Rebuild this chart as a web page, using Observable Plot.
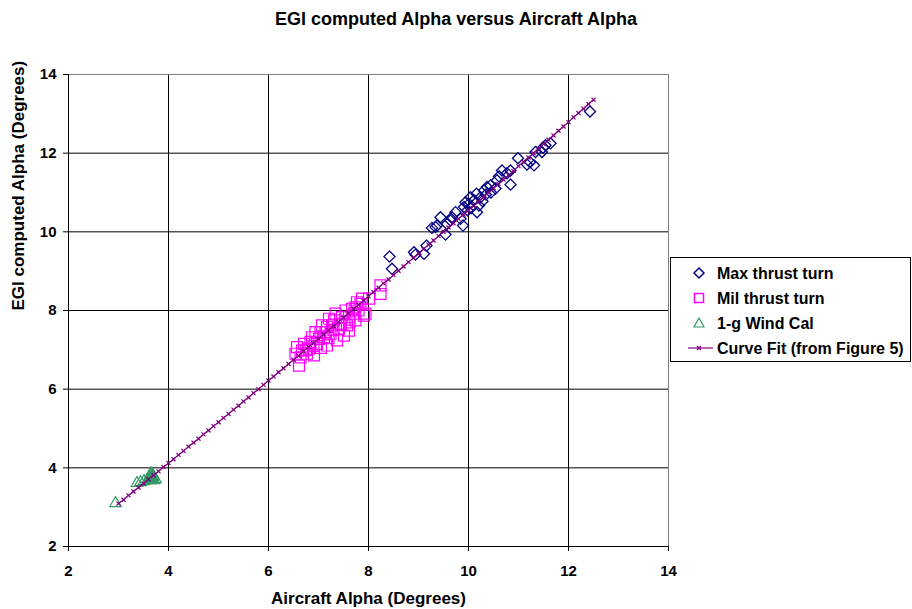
<!DOCTYPE html>
<html>
<head>
<meta charset="utf-8">
<script src="https://cdn.jsdelivr.net/npm/d3@7"></script>
<script src="https://cdn.jsdelivr.net/npm/@observablehq/plot@0.6"></script>
<style>
  html, body { margin: 0; padding: 0; background: #fff; }
  #wrap { position: relative; width: 912px; height: 609px; font-family: "Liberation Sans", Arial, sans-serif; }
  #title { position: absolute; left: 0; top: 8px; width: 912px; text-align: center; font-weight: bold; font-size: 18px; line-height: 22px; color: #000; }
  #chart { position: absolute; left: 0; top: 0; }
  #legend { position: absolute; left: 670px; top: 257px; }
</style>
</head>
<body>
<div id="wrap">
  <div id="chart"></div>
  <div id="title">EGI computed Alpha versus Aircraft Alpha</div>
  <div id="legend"></div>
</div>
<script>
// ---- data ----
const seriesNames = ["Max thrust turn", "Mil thrust turn", "1-g Wind Cal", "Curve Fit (from Figure 5)"];
const xLabel = "Aircraft Alpha (Degrees)";
const yLabel = "EGI computed Alpha (Degrees)";

const maxX = [12.43, 11.64, 11.54, 11.49, 11.47, 11.34, 11.31, 11.23, 11.17, 10.99,
              10.84, 10.77, 10.84, 10.67, 10.61, 10.57, 10.54, 10.44, 10.37, 10.31,
              10.24, 10.21, 10.17, 10.16, 10.11, 10.04, 10.01, 9.94, 9.91, 9.84,
              9.74, 9.67, 9.64, 9.57, 9.54, 9.44, 9.37, 9.34, 9.27, 9.89,
              9.16, 9.11, 8.91, 8.94, 8.42, 8.47, 10.05, 10.28, 10.45, 9.98, 10.35];
const maxY = [13.06, 12.25, 12.20, 12.14, 12.03, 12.03, 11.69, 11.77, 11.71, 11.87,
              11.56, 11.49, 11.20, 11.56, 11.41, 11.31, 11.10, 11.18, 11.14, 11.05,
              10.88, 10.67, 10.50, 10.97, 10.80, 10.88, 10.71, 10.75, 10.63, 10.33,
              10.50, 10.37, 10.29, 10.20, 9.93, 10.37, 10.16, 10.12, 10.10, 10.16,
              9.65, 9.44, 9.48, 9.42, 9.37, 9.06, 10.60, 10.78, 11.00, 10.55, 10.95];

const milX = [8.24, 8.24, 8.01, 7.87, 7.84, 7.94, 7.91, 7.77, 7.74, 7.71,
              7.74, 7.67, 7.61, 7.57, 7.54, 7.47, 7.44, 7.41, 7.34, 7.31,
              7.27, 7.24, 7.21, 7.17, 7.14, 7.11, 7.07, 7.04, 7.01, 6.97,
              6.94, 6.87, 6.84, 6.81, 6.77, 6.71, 6.67, 6.64, 6.61, 6.57,
              6.54, 7.61, 7.51, 7.37, 7.17, 6.91, 7.05, 7.20, 7.30, 7.45,
              6.75, 6.90, 7.62, 7.80];
const milY = [8.64, 8.42, 8.30, 8.30, 8.17, 7.92, 7.87, 8.21, 8.08, 7.92,
              7.75, 8.04, 7.83, 7.62, 8.00, 7.83, 7.66, 7.54, 7.92, 7.75,
              7.62, 7.41, 7.79, 7.58, 7.45, 7.32, 7.62, 7.45, 7.28, 7.15,
              7.45, 7.32, 7.20, 7.03, 6.90, 7.15, 6.98, 6.81, 6.60, 7.07,
              6.90, 7.49, 7.36, 7.24, 7.11, 6.86, 7.05, 7.30, 7.50, 7.65,
              7.00, 7.10, 7.70, 8.00];

const windX = [2.94, 3.37, 3.44, 3.51, 3.61, 3.64, 3.67, 3.71, 3.63, 3.65, 3.60, 3.70, 3.62, 3.74, 3.66, 3.68, 3.65, 3.69];
const windY = [3.10, 3.61, 3.63, 3.66, 3.72, 3.81, 3.76, 3.68, 3.68, 3.86, 3.70, 3.78, 3.78, 3.71, 3.72, 3.70, 3.74, 3.80];

const curveX = [3.0,3.1,3.2,3.3,3.4,3.5,3.6,3.7,3.8,3.9,
                4.0,4.1,4.2,4.3,4.4,4.5,4.6,4.7,4.8,4.9,
                5.0,5.1,5.2,5.3,5.4,5.5,5.6,5.7,5.8,5.9,
                6.0,6.1,6.2,6.3,6.4,6.5,6.6,6.7,6.8,6.9,
                7.0,7.1,7.2,7.3,7.4,7.5,7.6,7.7,7.8,7.9,
                8.0,8.1,8.2,8.3,8.4,8.5,8.6,8.7,8.8,8.9,
                9.0,9.1,9.2,9.3,9.4,9.5,9.6,9.7,9.8,9.9,
                10.0,10.1,10.2,10.3,10.4,10.5,10.6,10.7,10.8,10.9,
                11.0,11.1,11.2,11.3,11.4,11.5,11.6,11.7,11.8,11.9,
                12.0,12.1,12.2,12.3,12.4,12.5];
const curveY = [3.09,3.19,3.30,3.40,3.50,3.60,3.71,3.81,3.91,4.02,
                4.12,4.22,4.33,4.43,4.54,4.64,4.74,4.85,4.95,5.06,
                5.16,5.27,5.37,5.48,5.58,5.69,5.79,5.90,6.00,6.11,
                6.22,6.32,6.43,6.53,6.64,6.75,6.85,6.96,7.07,7.17,
                7.28,7.39,7.50,7.60,7.71,7.82,7.93,8.04,8.14,8.25,
                8.36,8.47,8.58,8.69,8.79,8.90,9.01,9.12,9.23,9.34,
                9.45,9.56,9.67,9.78,9.89,10.00,10.11,10.22,10.33,10.44,
                10.55,10.66,10.77,10.88,11.00,11.11,11.22,11.33,11.44,11.55,
                11.67,11.78,11.89,12.00,12.12,12.23,12.34,12.45,12.57,12.68,
                12.79,12.91,13.02,13.13,13.25,13.36];

const xTicks = [2, 4, 6, 8, 10, 12, 14];
const yTicks = [2, 4, 6, 8, 10, 12, 14];

const colors = ["#000080", "#FF00FF", "#339966", "#800080"];

// ---- build tables ----
const zip = (xs, ys) => xs.map((x, i) => ({x, y: ys[i]}));
const maxData = zip(maxX, maxY);
const milData = zip(milX, milY);
const windData = zip(windX, windY);
const curveData = zip(curveX, curveY);

const chart = Plot.plot({
  width: 912,
  height: 609,
  marginLeft: 68,
  marginRight: 244,
  marginTop: 74,
  marginBottom: 63,
  x: {domain: [2, 14]},
  y: {domain: [2, 14]},
  style: {
    fontFamily: "'Liberation Sans', Arial, sans-serif",
    fontSize: "15px",
    fontWeight: "bold",
    color: "#000",
    background: "transparent"
  },
  marks: [
    Plot.gridX(xTicks, {stroke: "#000", strokeOpacity: 1, strokeWidth: 1}),
    Plot.gridY(yTicks, {stroke: "#000", strokeOpacity: 1, strokeWidth: 1}),
    Plot.frame({stroke: "#808080"}),
    Plot.ruleX([2], {stroke: "#000"}),
    Plot.ruleY([2], {stroke: "#000"}),
    Plot.axisX(xTicks, {tickSize: 5, tickPadding: 14, stroke: "#000", label: null}),
    Plot.axisY(yTicks, {tickSize: 5, tickPadding: 7, stroke: "#000", label: null}),
    Plot.text([xLabel], {frameAnchor: "bottom", dy: 57, fontSize: 17, fontWeight: "bold", fill: "#000"}),
    Plot.text([yLabel], {frameAnchor: "left", rotate: -90, dx: -50, fontSize: 17, fontWeight: "bold", fill: "#000"}),
    Plot.dot(maxData, {x: "x", y: "y", symbol: "diamond2", r: 5, stroke: colors[0], fill: "none", strokeWidth: 1.3}),
    Plot.dot(milData, {x: "x", y: "y", symbol: "square", r: 6.2, stroke: colors[1], fill: "none", strokeWidth: 1.2}),
    Plot.dot(windData, {x: "x", y: "y", symbol: "triangle2", r: 5.5, stroke: colors[2], fill: "none", strokeWidth: 1.2}),
    Plot.line(curveData, {x: "x", y: "y", stroke: colors[3], strokeWidth: 1.2}),
    Plot.dot(curveData, {x: "x", y: "y", symbol: "times", r: 2, stroke: colors[3], strokeWidth: 1.2})
  ]
});
document.getElementById("chart").appendChild(chart);

// ---- legend ----
const lg = d3.select("#legend").append("svg").attr("width", 242).attr("height", 108);
lg.append("rect").attr("x", 0.5).attr("y", 0.5).attr("width", 240).attr("height", 104)
  .attr("fill", "#fff").attr("stroke", "#000");
const rowY = [16, 41, 66, 91];
const symX = 29;
lg.append("path").attr("d", `M${symX},${rowY[0]-5}L${symX+5},${rowY[0]}L${symX},${rowY[0]+5}L${symX-5},${rowY[0]}Z`)
  .attr("fill", "none").attr("stroke", colors[0]).attr("stroke-width", 1.5);
lg.append("rect").attr("x", symX - 4.5).attr("y", rowY[1] - 4.5).attr("width", 9).attr("height", 9)
  .attr("fill", "none").attr("stroke", colors[1]).attr("stroke-width", 1.5);
lg.append("path").attr("d", `M${symX},${rowY[2]-5}L${symX+5},${rowY[2]+4}L${symX-5},${rowY[2]+4}Z`)
  .attr("fill", "none").attr("stroke", colors[2]).attr("stroke-width", 1.2);
lg.append("line").attr("x1", 18).attr("x2", 43).attr("y1", rowY[3]).attr("y2", rowY[3])
  .attr("stroke", colors[3]).attr("stroke-width", 1.2);
lg.append("path").attr("d", `M${symX-2},${rowY[3]-2}L${symX+2},${rowY[3]+2}M${symX-2},${rowY[3]+2}L${symX+2},${rowY[3]-2}`)
  .attr("stroke", colors[3]).attr("stroke-width", 1.2);
seriesNames.forEach((name, i) => {
  lg.append("text").attr("x", 47).attr("y", rowY[i]).attr("dy", "0.36em")
    .attr("font-family", "'Liberation Sans', Arial, sans-serif").attr("font-size", 16)
    .attr("font-weight", "bold").attr("fill", "#000").text(name);
});
</script>
</body>
</html>
